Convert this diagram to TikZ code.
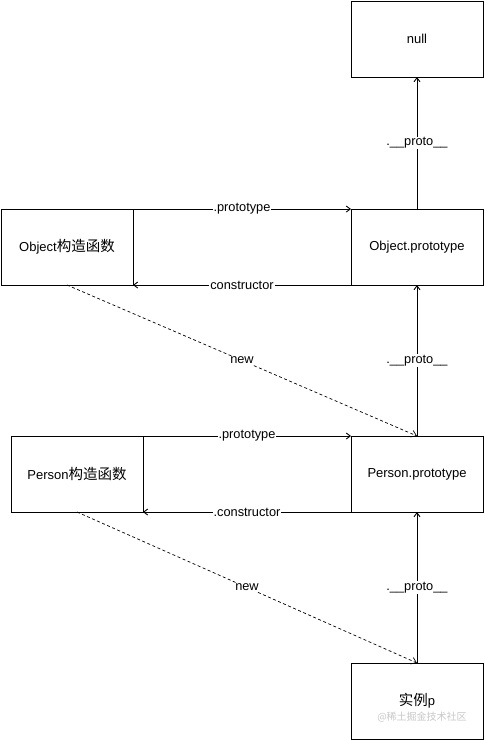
\documentclass[tikz,border=0pt]{standalone}
\usepackage{fontspec}
\setmainfont{Liberation Sans}
\newfontfamily\cjk{Noto Sans CJK SC}
\usetikzlibrary{arrows.meta}
\newcommand{\zh}[1]{{\cjk\fontsize{14.5}{16}\selectfont #1}}
\begin{document}
\begin{tikzpicture}[x=1pt,y=-1pt,
  box/.style={draw,line width=1pt,minimum width=132pt,minimum height=76pt,inner sep=0pt,outer sep=0pt,font=\fontsize{13}{15}\selectfont},
  lbl/.style={fill=white,inner sep=1pt,font=\fontsize{12.8}{14}\selectfont},
  arr/.style={line width=0.9pt,-{Straight Barb[length=4pt,width=6pt]}},
  darr/.style={line width=0.7pt,dash pattern=on 3pt off 2.5pt,-{Straight Barb[length=5pt,width=7pt]}}]
\useasboundingbox (0,0) rectangle (485,740);
\node[box] (null) at (417,39) {null};
\node[box] (op) at (417,247) {Object.prototype};
\node[box] (oc) at (67,247) {Object\zh{构造函数}};
\node[box] (pp) at (417,474) {Person.prototype};
\node[box] (pc) at (77,474) {Person\zh{构造函数}};
\node[box] (p) at (417,701) {\zh{实例}p};
\node[text=black!22,font=\cjk\fontsize{10}{12}\selectfont] (wm) at (422,717) {@稀土掘金技术社区};
\draw[arr] (oc.north east) -- (op.north west) node[midway,lbl] (l1) {.prototype};
\draw[arr] (op.south west) -- (oc.south east) node[midway,lbl] (l2) {constructor};
\draw[arr] (op.north) -- (null.south) node[midway,lbl] (l3) {.\_\_proto\_\_};
\draw[darr] (oc.south) -- (pp.north) node[midway,lbl] (l4) {new};
\draw[arr] (pc.north east) -- (pp.north west) node[midway,lbl] (l5) {.prototype};
\draw[arr] (pp.south west) -- (pc.south east) node[midway,lbl] (l6) {.constructor};
\draw[arr] (pp.north) -- (op.south) node[midway,lbl] (l7) {.\_\_proto\_\_};
\draw[darr] (pc.south) -- (p.north) node[midway,lbl] (l8) {new};
\draw[arr] (p.north) -- (pp.south) node[midway,lbl] (l9) {.\_\_proto\_\_};
\end{tikzpicture}
\end{document}
